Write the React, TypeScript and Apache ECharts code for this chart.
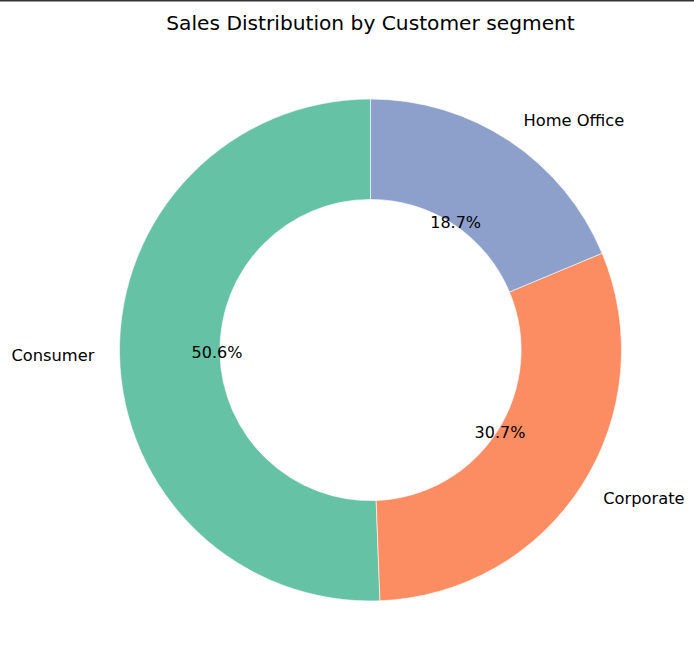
import React, { useEffect, useRef } from "react";
import * as echarts from "echarts";

const categories = ["Consumer", "Corporate", "Home Office"];
const shares = [50.6, 30.7, 18.7];
const colors = ["#66c2a5", "#fc8d62", "#8da0cb"];
const titleText = "Sales Distribution by Customer segment";

export default function App() {
  const ref = useRef<HTMLDivElement>(null);
  useEffect(() => {
    document.body.style.margin = "0";
    if (!ref.current) return;
    const chart = echarts.init(ref.current, null, { renderer: "svg" });
    const data = categories.map((name, i) => ({
      name,
      value: shares[i],
      itemStyle: { color: colors[i] },
    }));
    const R = 251;
    const cx = 370.5;
    const cy = 350;
    const font = "DejaVu Sans";
    chart.setOption({
      animation: false,
      backgroundColor: "#fff",
      title: {
        text: titleText,
        left: cx - 5,
        textAlign: "center",
        top: 8,
        textStyle: { fontFamily: font, fontSize: 20.2, fontWeight: "normal", color: "#000" },
      },
      graphic: [
        { type: "rect", shape: { x: 0, y: 0, width: 694, height: 1.5 }, style: { fill: "#333" }, silent: true },
      ],
      series: [
        {
          type: "pie",
          center: [cx, cy],
          radius: [R * 0.6, R],
          startAngle: 90,
          clockwise: false,
          avoidLabelOverlap: false,
          silent: true,
          itemStyle: { borderColor: "#fff", borderWidth: 0.6 },
          label: {
            show: true,
            position: "outside",
            formatter: "{b}",
            fontFamily: font,
            fontSize: 16.3,
            color: "#000",
            distanceToLabelLine: 0,
          },
          labelLine: { show: false, length: R * 0.1, length2: 0 },
          data,
        },
        {
          type: "pie",
          center: [cx, cy],
          radius: [0, R * 1.2],
          startAngle: 90,
          clockwise: false,
          avoidLabelOverlap: false,
          silent: true,
          z: 5,
          itemStyle: { color: "rgba(0,0,0,0)", borderWidth: 0 },
          label: {
            show: true,
            position: "inside",
            formatter: (p: any) => p.percent.toFixed(1) + "%",
            fontFamily: font,
            fontSize: 16,
            color: "#000",
          },
          labelLine: { show: false },
          data: categories.map((name, i) => ({ name, value: shares[i], itemStyle: { color: "rgba(0,0,0,0)" } })),
        },
      ],
    });
    return () => chart.dispose();
  }, []);
  return <div ref={ref} style={{ width: 694, height: 671 }} />;
}
